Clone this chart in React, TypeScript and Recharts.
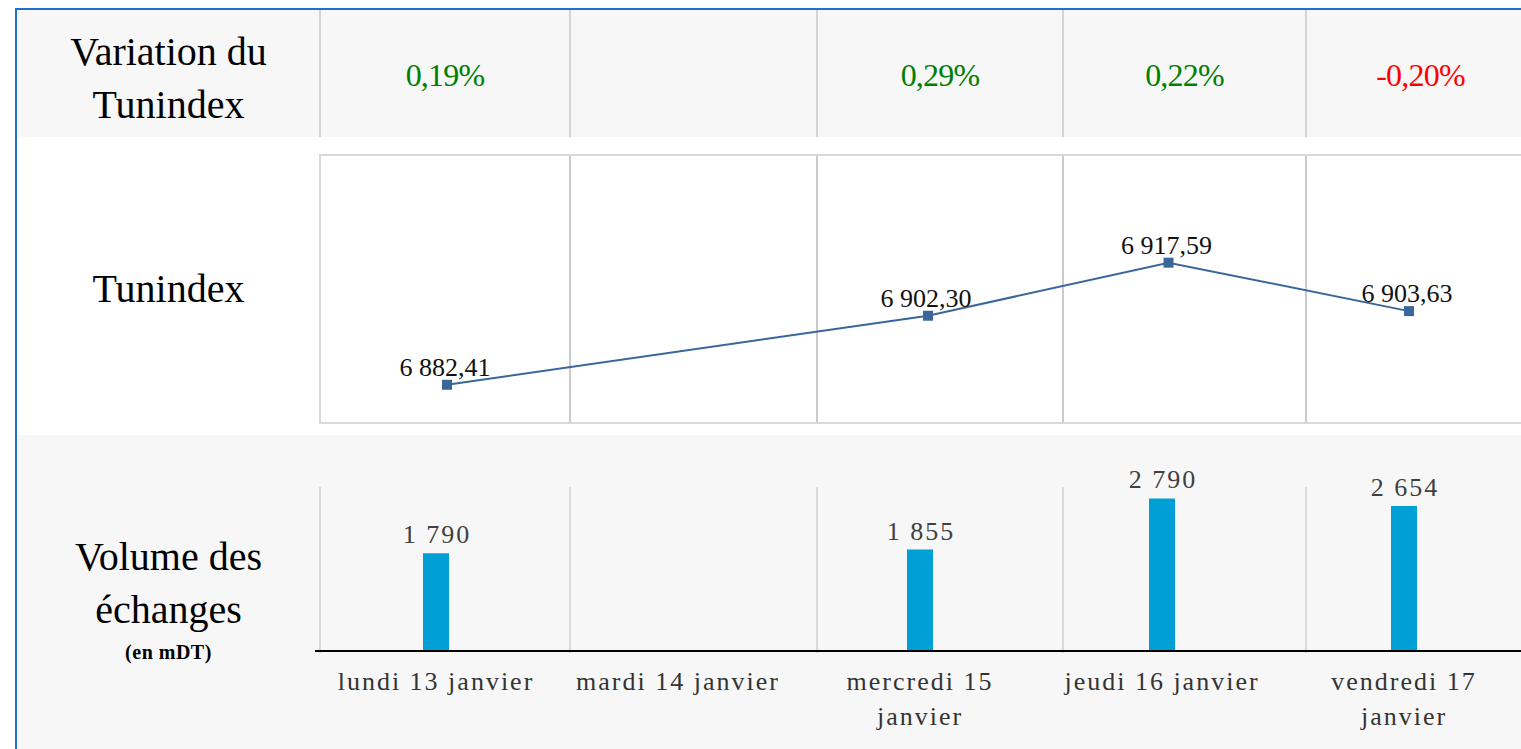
import { LineChart, Line, BarChart, Bar, XAxis, YAxis, LabelList } from 'recharts';

const days = [
  'lundi 13 janvier',
  'mardi 14 janvier',
  'mercredi 15 janvier',
  'jeudi 16 janvier',
  'vendredi 17 janvier',
];
const variations: (number | null)[] = [0.19, null, 0.29, 0.22, -0.2];
const tunindex: (number | null)[] = [6882.41, null, 6902.3, 6917.59, 6903.63];
const volumes: (number | null)[] = [1790, null, 1855, 2790, 2654];

const rows = days.map((day, i) => ({ day, tunindex: tunindex[i], volume: volumes[i] }));

// table column edges (layout only)
const colEdges = [320, 570, 817, 1063, 1306, 1535];

const SERIF = "'Liberation Serif', 'Times New Roman', serif";
const LINE_BLUE = '#3a6699';
const BAR_BLUE = '#009fd6';

function frNumber(v: number, decimals: number) {
  const [int, dec] = v.toFixed(decimals).split('.');
  const intS = int.replace(/\B(?=(\d{3})+(?!\d))/g, ' ');
  return dec ? `${intS},${dec}` : intS;
}

function frPercent(v: number) {
  return `${v.toFixed(2).replace('.', ',')}%`;
}

function DayTick(props: any) {
  const { x, y, payload } = props;
  const label: string = payload.value;
  let lines = [label];
  if (label.length > 16) {
    const cut = label.lastIndexOf(' ');
    lines = [label.slice(0, cut), label.slice(cut + 1)];
  }
  return (
    <text
      x={x}
      y={y}
      textAnchor="middle"
      fill="#333"
      fontSize={26}
      fontFamily={SERIF}
      letterSpacing={2}
    >
      {lines.map((l, i) => (
        <tspan key={i} x={x} dy={i === 0 ? 31 : 35}>
          {l}
        </tspan>
      ))}
    </text>
  );
}

function SquareDot(props: any) {
  const { cx, cy, index, value } = props;
  if (value == null || cx == null || cy == null) return <g key={`d-${index}`} />;
  return <rect key={`d-${index}`} x={cx - 5} y={cy - 5} width={10} height={10} fill={LINE_BLUE} />;
}

function LineValueLabel(props: any) {
  const { x, y, value } = props;
  if (value == null || x == null || y == null) return null;
  return (
    <text x={x - 2} y={y - 9} textAnchor="middle" fill="#111" fontSize={26} fontFamily={SERIF}>
      {frNumber(Number(value), 2)}
    </text>
  );
}

function BarValueLabel(props: any) {
  const { x, y, width, value } = props;
  if (value == null || x == null || y == null) return null;
  return (
    <text
      x={x + width / 2 + 1}
      y={y - 10}
      textAnchor="middle"
      fill="#404040"
      fontSize={26}
      fontFamily={SERIF}
      letterSpacing={2}
    >
      {frNumber(Number(value), 0)}
    </text>
  );
}

const vLine = (x: number, top: number, bottom: number, color: string) => (
  <div
    key={`${x}-${top}`}
    style={{ position: 'absolute', left: x - 1, top, width: 2, height: bottom - top, background: color }}
  />
);

const leftLabel: React.CSSProperties = {
  position: 'absolute',
  left: 17,
  width: 303,
  textAlign: 'center',
  fontFamily: SERIF,
  fontSize: 40,
  color: '#000',
  lineHeight: '53px',
};

export default function App() {
  return (
    <div
      style={{
        position: 'absolute',
        left: 0,
        top: 0,
        width: 1521,
        height: 749,
        overflow: 'hidden',
        background: '#fff',
        fontFamily: SERIF,
      }}
    >
      {/* blue frame */}
      <div style={{ position: 'absolute', left: 15, top: 8, width: 1506, height: 2, background: '#1f6fd1' }} />
      <div style={{ position: 'absolute', left: 15, top: 8, width: 2, height: 741, background: '#1f6fd1' }} />

      {/* row backgrounds */}
      <div style={{ position: 'absolute', left: 17, top: 10, width: 1504, height: 127, background: '#f7f7f7' }} />
      <div style={{ position: 'absolute', left: 17, top: 435, width: 1504, height: 314, background: '#f7f7f7' }} />

      {/* top row separators and variation values */}
      {colEdges.slice(0, 5).map((x) => vLine(x, 10, 137, '#d4d4d4'))}
      {variations.map((v, i) =>
        v == null ? null : (
          <div
            key={`var-${i}`}
            style={{
              position: 'absolute',
              left: colEdges[i],
              width: colEdges[i + 1] - colEdges[i],
              top: 55,
              textAlign: 'center',
              fontSize: 32,
              lineHeight: '40px',
              color: v < 0 ? '#ff0000' : '#008000',
              letterSpacing: -0.8,
            }}
          >
            {frPercent(v)}
          </div>
        )
      )}

      {/* left labels */}
      <div style={{ ...leftLabel, top: 25 }}>
        Variation du
        <br />
        Tunindex
      </div>
      <div style={{ ...leftLabel, top: 262 }}>Tunindex</div>
      <div style={{ ...leftLabel, top: 530 }}>
        Volume des
        <br />
        échanges
      </div>
      <div
        style={{
          ...leftLabel,
          top: 639,
          fontSize: 20,
          fontWeight: 'bold',
          lineHeight: '26px',
          letterSpacing: 0.5,
        }}
      >
        (en mDT)
      </div>

      {/* line plot frame */}
      <div
        style={{
          position: 'absolute',
          left: 319,
          top: 154,
          width: 1240,
          height: 270,
          border: '2px solid #d9d9d9',
          boxSizing: 'border-box',
        }}
      />
      {colEdges.slice(1, 5).map((x) => vLine(x, 156, 422, '#cbcbcb'))}

      {/* bar area separators */}
      {colEdges.slice(0, 5).map((x) => vLine(x, 487, 653, '#d9d9d9'))}

      <div style={{ position: 'absolute', left: 327, top: 155 }}>
        <LineChart width={1202} height={268} data={rows} margin={{ top: 0, right: 0, bottom: 0, left: 0 }}>
          <XAxis dataKey="day" hide padding={{ left: 120, right: 120 }} />
          <YAxis hide domain={[6871.4, 6948.6]} allowDataOverflow />
          <Line
            dataKey="tunindex"
            stroke={LINE_BLUE}
            strokeWidth={2}
            connectNulls
            dot={SquareDot}
            activeDot={false}
            isAnimationActive={false}
          >
            <LabelList dataKey="tunindex" content={LineValueLabel} />
          </Line>
        </LineChart>
      </div>

      <div style={{ position: 'absolute', left: 315, top: 440 }}>
        <BarChart width={1210} height={301} data={rows} margin={{ top: 47, right: 0, bottom: 0, left: 0 }}>
          <XAxis
            dataKey="day"
            height={90}
            interval={0}
            tickLine={false}
            axisLine={{ stroke: '#000', strokeWidth: 2 }}
            tick={<DayTick />}
          />
          <YAxis hide domain={[0, 3000]} allowDataOverflow />
          <Bar dataKey="volume" fill={BAR_BLUE} barSize={26} isAnimationActive={false}>
            <LabelList dataKey="volume" content={BarValueLabel} />
          </Bar>
        </BarChart>
      </div>
    </div>
  );
}
